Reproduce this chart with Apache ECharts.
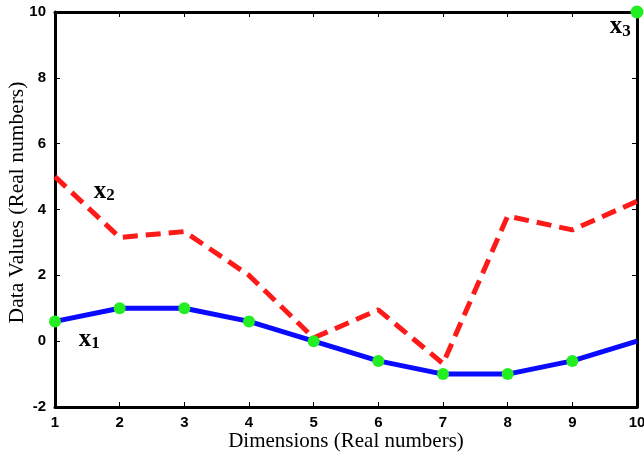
<!DOCTYPE html>
<html>
<head>
<meta charset="utf-8">
<script src="https://cdn.jsdelivr.net/npm/echarts@6/dist/echarts.min.js"></script>
<style>html,body{margin:0;padding:0;background:#fff}#c{width:644px;height:459px}</style>
</head>
<body>
<div id="c"></div>
<script>
var dims = [1, 2, 3, 4, 5, 6, 7, 8, 9, 10];
var x1Values = [0.6, 1.0, 1.0, 0.6, 0.0, -0.6, -1.0, -1.0, -0.6, 0.0];
var x2Values = [5.0, 3.15, 3.33, 2.0, 0.1, 0.95, -0.68, 3.8, 3.38, 4.25];
var x3Point = [10, 10];
var xTicks = [1, 2, 3, 4, 5, 6, 7, 8, 9, 10];
var yTicks = [-2, 0, 2, 4, 6, 8, 10];
var labelPoints = [
  {name: '1', coord: [1.53, 0.05]},
  {name: '2', coord: [1.76, 4.55]},
  {name: '3', coord: [9.74, 9.55]}
];

var chart = echarts.init(document.getElementById('c'));
var tickFont = {fontFamily: 'Liberation Sans', fontSize: 15, fontWeight: 'bold', color: '#000'};
var axisLine = {show: true, onZero: false, lineStyle: {color: '#000', width: 3}};
var axisTick = {show: true, inside: true, length: 5, lineStyle: {color: '#000', width: 1}};

var x1Data = dims.map(function (d, i) {
  var p = {value: [d, x1Values[i]]};
  if (i === dims.length - 1) { p.symbol = 'none'; }
  return p;
});

chart.setOption({
  animation: false,
  backgroundColor: '#fff',
  grid: {left: 55, right: 7, top: 12, bottom: 52, containLabel: false, outerBoundsMode: 'none'},
  xAxis: [{
    type: 'value', min: 1, max: 10, interval: 1, position: 'bottom',
    axisLine: axisLine, axisTick: axisTick, splitLine: {show: false},
    axisLabel: Object.assign({margin: 8, formatter: function (v) { return xTicks.indexOf(v) >= 0 ? String(v) : ''; }}, tickFont),
    name: 'Dimensions (Real numbers)', nameLocation: 'middle', nameGap: 24, nameMoveOverlap: false,
    nameTextStyle: {fontFamily: 'Liberation Serif', fontSize: 21, color: '#000'}
  }, {
    type: 'value', min: 1, max: 10, interval: 1, position: 'top',
    axisLine: axisLine, axisTick: axisTick, splitLine: {show: false}, axisLabel: {show: false}
  }],
  yAxis: [{
    type: 'value', min: -2, max: 10, interval: 2, position: 'left',
    axisLine: axisLine, axisTick: axisTick, splitLine: {show: false},
    axisLabel: Object.assign({margin: 9, formatter: function (v) { return yTicks.indexOf(v) >= 0 ? String(v) : ''; }}, tickFont),
    name: 'Data Values (Real numbers)', nameLocation: 'middle', nameGap: 27, nameMoveOverlap: false,
    nameTextStyle: {fontFamily: 'Liberation Serif', fontSize: 21.5, color: '#000', padding: [0, 0, 0, 14]}
  }, {
    type: 'value', min: -2, max: 10, interval: 2, position: 'right',
    axisLine: axisLine, axisTick: axisTick, splitLine: {show: false}, axisLabel: {show: false}
  }],
  series: [{
    type: 'line', name: 'x2', data: dims.map(function (d, i) { return [d, x2Values[i]]; }),
    showSymbol: false, symbol: 'none',
    lineStyle: {color: '#ff1a1a', width: 5, type: [15, 8]}, z: 2
  }, {
    type: 'line', name: 'x1', data: x1Data,
    symbol: 'circle', symbolSize: 12,
    itemStyle: {color: '#22ee22'},
    lineStyle: {color: '#0a0aff', width: 5}, z: 3
  }, {
    type: 'scatter', name: 'x3', data: [x3Point], symbol: 'circle', symbolSize: 13,
    itemStyle: {color: '#22ee22', opacity: 1}, clip: false, z: 5
  }, {
    type: 'scatter', name: 'labels', symbol: 'circle', symbolSize: 1, clip: false, z: 6,
    itemStyle: {color: 'rgba(0,0,0,0)', opacity: 1},
    data: labelPoints.map(function (p) { return {value: p.coord, name: p.name}; }),
    label: {
      show: true, position: 'inside', color: '#000',
      formatter: function (p) { return '{b|x}{s|' + p.name + '}'; },
      rich: {
        b: {fontFamily: 'Liberation Serif', fontSize: 25, fontWeight: 'bold', color: '#000'},
        s: {fontFamily: 'Liberation Serif', fontSize: 17, fontWeight: 'bold', color: '#000', padding: [9, 0, 0, 0]}
      }
    }
  }]
});
</script>
</body>
</html>
